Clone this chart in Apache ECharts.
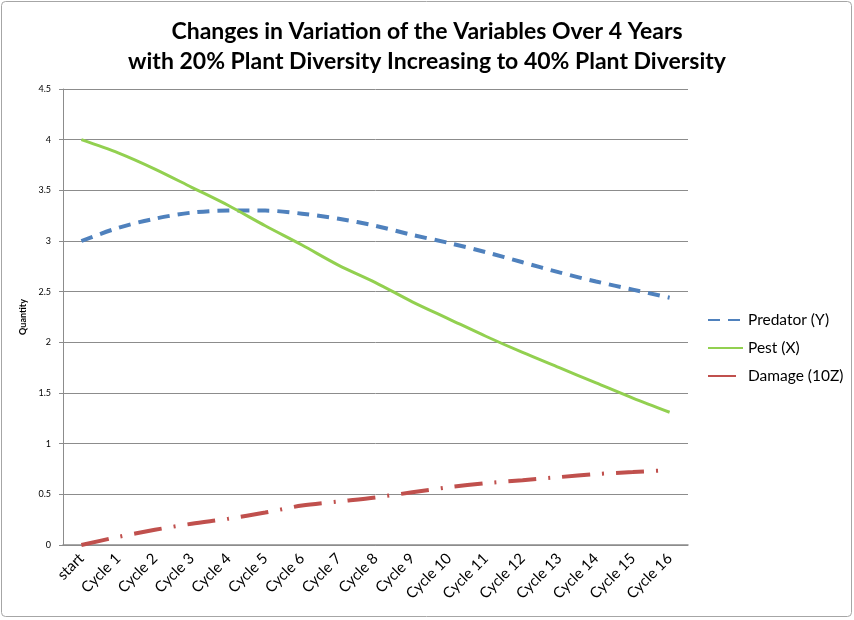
<!DOCTYPE html>
<html>
<head>
<meta charset="utf-8">
<script src="https://cdn.jsdelivr.net/npm/echarts@6/dist/echarts.min.js"></script>
<style>
html,body{margin:0;padding:0;background:#fff;}
#chart{width:854px;height:620px;}
</style>
</head>
<body>
<div id="chart"></div>
<script>
const categories = ["start","Cycle 1","Cycle 2","Cycle 3","Cycle 4","Cycle 5","Cycle 6","Cycle 7","Cycle 8","Cycle 9","Cycle 10","Cycle 11","Cycle 12","Cycle 13","Cycle 14","Cycle 15","Cycle 16"];
const predator = [3.00,3.13,3.22,3.28,3.30,3.30,3.27,3.22,3.15,3.06,2.98,2.89,2.79,2.69,2.60,2.52,2.44];
const pest = [4.00,3.87,3.71,3.53,3.35,3.15,2.96,2.76,2.59,2.40,2.23,2.06,1.90,1.75,1.60,1.45,1.31];
const damage = [0.00,0.08,0.15,0.21,0.26,0.32,0.39,0.43,0.47,0.52,0.57,0.61,0.64,0.67,0.70,0.72,0.74];
const seriesNames = ["Predator (Y)","Pest (X)","Damage (10Z)"];
const titleText = "Changes in Variation of the Variables Over 4 Years\nwith 20% Plant Diversity Increasing to 40% Plant Diversity";
const yAxisName = "Quantity";

const chart = echarts.init(document.getElementById('chart'), null, {renderer:'canvas'});
const font = "Lato, 'Open Sans', sans-serif";
chart.setOption({
  backgroundColor:'#fff',
  animation:false,
  title:{
    text:titleText,
    left:'center', top:12,
    textStyle:{fontFamily:font, fontSize:23, fontWeight:'bold', color:'#000', lineHeight:30}
  },
  graphic:[{
    type:'rect', shape:{x:1.5,y:1.5,width:850,height:615,r:4},
    style:{fill:'none', stroke:'#a6a6a6', lineWidth:1}, silent:true, z:-1
  }],
  legend:{
    orient:'vertical', left:702, top:307, itemGap:12,
    itemWidth:35, itemHeight:14,
    itemStyle:{opacity:0},
    textStyle:{fontFamily:font, fontSize:15.5, color:'#000'},
    data:seriesNames
  },
  grid:{left:63, right:166, top:89, bottom:75, containLabel:false},
  xAxis:{
    type:'category', data:categories, boundaryGap:true,
    axisLine:{lineStyle:{color:'#8c8c8c', width:1.5}},
    axisTick:{show:false},
    axisLabel:{rotate:45, interval:0, fontFamily:font, fontSize:15, color:'#000', margin:11}
  },
  yAxis:{
    type:'value', min:0, max:4.5, interval:0.5,
    name:yAxisName, nameLocation:'middle', nameGap:24, nameRotate:90,
    nameTextStyle:{fontFamily:font, fontSize:9, fontWeight:'bold', color:'#000'},
    axisLine:{show:true, lineStyle:{color:'#8c8c8c', width:1}},
    axisTick:{show:true, length:4, lineStyle:{color:'#8c8c8c'}},
    splitLine:{lineStyle:{color:'#8c8c8c', width:1}},
    axisLabel:{fontFamily:font, fontSize:9, color:'#000', margin:12}
  },
  series:[
    {name:seriesNames[0], type:'line', data:predator, smooth:0.3, symbol:'none',
     lineStyle:{color:'#4F81BD', width:4, type:[12,8]}, itemStyle:{color:'#4F81BD'}},
    {name:seriesNames[1], type:'line', data:pest, smooth:0.3, symbol:'none',
     lineStyle:{color:'#92D050', width:3, type:'solid'}, itemStyle:{color:'#92D050'}},
    {name:seriesNames[2], type:'line', data:damage, smooth:0.3, symbol:'none',
     lineStyle:{color:'#C0504D', width:4, type:[28,12,2,12]}, itemStyle:{color:'#C0504D'}}
  ]
});
</script>
</body>
</html>
